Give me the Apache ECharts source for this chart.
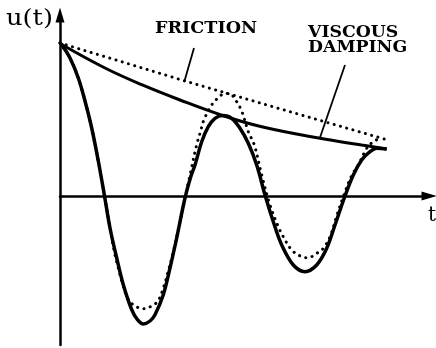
<!DOCTYPE html>
<html>
<head>
<meta charset="utf-8">
<script src="https://cdn.jsdelivr.net/npm/echarts@6/dist/echarts.min.js"></script>
<style>
  html, body { margin: 0; padding: 0; background: #fff; }
  #chart { width: 436px; height: 348px; }
</style>
</head>
<body>
<div id="chart"></div>
<script>
// Free vibration u(t): viscous damping vs. Coulomb (friction) damping.
// t and u are in arbitrary units; each pair is [t, u].

const viscousResponse = [
  [0, 15.25], [0.17, 15.13], [1.0, 13.8], [1.83, 11.8], [2.5, 9.5], [3.17, 6.8],
  [3.83, 3.5], [4.43, 0.13], [5.0, -3.2], [5.67, -6.2], [6.33, -8.87], [7.17, -11.37],
  [7.7, -12.3], [8.33, -12.8], [9.0, -12.5], [9.5, -11.87], [10.33, -9.87], [11.0, -7.2],
  [11.67, -4.2], [12.5, -0.2], [13.1, 2.0], [13.5, 3.1], [14.17, 5.43], [14.83, 6.93],
  [15.5, 7.77], [16.3, 8.05], [17.17, 7.77], [18.0, 6.77], [18.83, 5.27], [19.67, 3.1],
  [20.5, 0.1], [21.33, -2.57], [22.17, -4.9], [23.33, -6.9], [24.5, -7.57], [25.67, -6.9],
  [26.67, -5.23], [27.5, -2.9], [28.5, 0], [29.33, 2.1], [30.17, 3.6], [31.0, 4.43],
  [31.67, 4.77], [32.67, 4.7]
];

const frictionResponse = [
  [0, 15.3], [1.0, 13.8], [1.83, 11.8], [2.5, 9.5], [3.17, 6.8], [3.83, 3.5],
  [4.43, 0.13], [5.0, -3.2], [5.5, -5.9], [5.83, -7.2], [6.17, -8.5], [6.8, -10.3],
  [7.5, -11.0], [8.33, -11.27], [9.17, -11.0], [9.8, -10.5], [10.3, -9.3], [10.8, -7.6],
  [11.3, -5.7], [12.0, -2.6], [12.5, -0.2], [13.0, 2.1], [13.67, 5.13], [14.07, 6.5],
  [14.4, 7.63], [15.17, 9.1], [15.83, 9.83], [16.5, 10.27], [17.17, 10.1], [17.67, 9.43],
  [18.17, 8.5], [18.83, 6.43], [19.43, 5.1], [20.17, 2.1], [21.0, -0.9], [21.83, -3.07],
  [22.33, -4.07], [23.17, -5.4], [24.17, -6.07], [24.83, -6.17], [25.67, -5.73],
  [26.33, -5.23], [27.0, -4.07], [27.7, -1.9], [28.5, 0.4], [29.2, 2.1], [29.83, 3.1],
  [30.67, 4.77], [31.33, 5.43], [32.0, 5.77]
];

const viscousEnvelope = [
  [0, 15.25], [4.5, 12.8], [8.17, 11.13], [12.0, 9.6], [16.33, 8.03],
  [20.17, 6.93], [26.0, 5.77], [30.17, 5.1], [32.67, 4.7]
];

const frictionEnvelope = [
  [0, 15.3], [12.5, 11.5], [21.83, 8.77], [32.6, 5.65]
];

// leader lines from the captions down to the curves they name
const frictionLeader = [[13.4, 14.8], [12.45, 11.5]];
const viscousLeader = [[28.5, 13.1], [26.0, 5.85]];

const captionFriction = 'FRICTION';
const captionViscous = ['VISCOUS', 'DAMPING'];
const yName = 'u(t)';
const xName = 't';

const INK = '#000';
const dotted = { color: INK, width: 3, type: [0.1, 6.4], cap: 'round' };

function curve(data, lineStyle, smooth) {
  return {
    type: 'line',
    data: data,
    smooth: smooth,
    showSymbol: false,
    symbol: 'none',
    silent: true,
    lineStyle: lineStyle
  };
}

const axisLine = {
  onZero: true,
  symbol: ['none', 'triangle'],
  symbolSize: [9, 15],
  lineStyle: { color: INK, width: 2.5 }
};

const captionFont = 'bold 16px "DejaVu Serif"';

const chart = echarts.init(document.getElementById('chart'), null, { renderer: 'canvas' });
chart.setOption({
  animation: false,
  backgroundColor: '#fff',
  grid: { left: 60, right: 7, top: 15, bottom: 3, outerBoundsMode: 'none' },
  xAxis: {
    type: 'value', min: 0, max: 36.9,
    axisLine: axisLine,
    axisTick: { show: false }, axisLabel: { show: false }, splitLine: { show: false }
  },
  yAxis: {
    type: 'value', min: -14.9, max: 18.1,
    axisLine: axisLine,
    axisTick: { show: false }, axisLabel: { show: false }, splitLine: { show: false }
  },
  series: [
    curve(frictionEnvelope, dotted, false),
    curve(frictionResponse, dotted, 0.35),
    curve(viscousEnvelope, { color: INK, width: 3 }, 0.4),
    curve(viscousResponse, { color: INK, width: 3.5 }, 0.35),
    curve(frictionLeader, { color: INK, width: 1.8 }, false),
    curve(viscousLeader, { color: INK, width: 1.8 }, false)
  ],
  graphic: [
    {
      type: 'text', x: 155, y: 29.2, scaleX: 1.1,
      style: { text: captionFriction, fill: INK, font: captionFont,
               textAlign: 'left', textVerticalAlign: 'middle' }
    },
    {
      type: 'text', x: 308, y: 32.5, scaleX: 1.08,
      style: { text: captionViscous[0], fill: INK, font: captionFont,
               textAlign: 'left', textVerticalAlign: 'middle' }
    },
    {
      type: 'text', x: 308, y: 47.5, scaleX: 1.08,
      style: { text: captionViscous[1], fill: INK, font: captionFont,
               textAlign: 'left', textVerticalAlign: 'middle' }
    },
    {
      type: 'text', x: 6, y: 19, scaleX: 1.17,
      style: { text: yName, fill: INK, font: '22px "DejaVu Serif"',
               textAlign: 'left', textVerticalAlign: 'middle' }
    },
    {
      type: 'text', x: 432, y: 215.5,
      style: { text: xName, fill: INK, font: '20px "DejaVu Serif"',
               textAlign: 'center', textVerticalAlign: 'middle' }
    }
  ]
});
</script>
</body>
</html>
